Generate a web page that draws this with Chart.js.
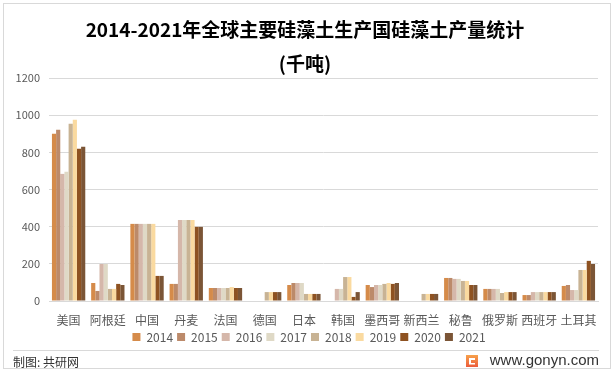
<!DOCTYPE html>
<html><head><meta charset="utf-8">
<script src="https://cdn.jsdelivr.net/npm/chart.js@4/dist/chart.umd.min.js"></script>
<style>html,body{margin:0;padding:0;background:#fff;}#wrap{width:614px;height:370px;position:relative;}</style>
</head><body><div id="wrap"><canvas id="c" width="614" height="370"></canvas></div>
<script>
const categories = ['美国','阿根廷','中国','丹麦','法国','德国','日本','韩国','墨西哥','新西兰','秘鲁','俄罗斯','西班牙','土耳其'];
const years = ['2014','2015','2016','2017','2018','2019','2020','2021'];
const v2014 = [900, 97, 415, 92, 70, null, 86, null, 86, null, 124, 65, 32, 81];
const v2015 = [921, 54, 415, 92, 70, null, 97, null, 75, null, 124, 65, 32, 86];
const v2016 = [684, 199, 415, 436, 70, null, 97, 65, 86, null, 119, 65, 48, 59];
const v2017 = [695, 199, 415, 436, 70, null, 97, 65, 86, null, 119, 65, 48, 59];
const v2018 = [954, 65, 415, 436, 70, 48, 38, 129, 92, 38, 108, 43, 48, 167];
const v2019 = [975, 65, 415, 436, 75, 48, 38, 129, 97, 38, 108, 48, 48, 167];
const v2020 = [819, 92, 135, 399, 70, 48, 38, 22, 92, 38, 86, 48, 48, 216];
const v2021 = [830, 86, 135, 399, 70, 48, 38, 48, 97, 38, 86, 48, 48, 199];
const yTicks = [0, 200, 400, 600, 800, 1000, 1200];
const titleText = '2014-2021年全球主要硅藻土生产国硅藻土产量统计';
const subtitleText = '(千吨)';
const sourceText = '制图: 共研网';
const siteText = 'www.gonyn.com';

const series = [v2014, v2015, v2016, v2017, v2018, v2019, v2020, v2021];
const colors = ['#D58B4A','#BC8A6A','#D5B7AA','#DFD9C6','#C8B394','#FADAA0','#8E5221','#7B5536'];
const FONT = '"Noto Sans CJK SC", "Microsoft YaHei", sans-serif';

const deco = {
  id: 'deco',
  beforeDraw(chart) {
    const l = chart.legend;
    if (l && !l._shifted) { l.left += 20; l._shifted = true; }
  },
  afterDraw(chart) {
    const ctx = chart.ctx;
    ctx.save();
    ctx.strokeStyle = '#D9D9D9';
    ctx.lineWidth = 1;
    ctx.strokeRect(3.5, 3.5, 607, 365);
    ctx.fillStyle = '#000';
    ctx.textAlign = 'center';
    ctx.textBaseline = 'middle';
    ctx.font = 'bold 19px ' + FONT;
    ctx.fillText(titleText, 305, 30);
    ctx.fillText(subtitleText, 305, 64);
    ctx.beginPath();
    ctx.strokeStyle = '#D9D9D9';
    ctx.moveTo(13, 350.5); ctx.lineTo(599, 350.5); ctx.stroke();
    ctx.font = '12px ' + FONT;
    ctx.fillStyle = '#333';
    ctx.textAlign = 'left';
    ctx.fillText(sourceText, 13, 362);
    ctx.textAlign = 'right';
    ctx.font = '15px "Liberation Sans", Arial, sans-serif';
    ctx.fillText(siteText, 599, 361);
    const lx = 466, ly = 355;
    const g = ctx.createLinearGradient(lx, ly, lx, ly + 12);
    g.addColorStop(0, '#F7A24B'); g.addColorStop(1, '#EC5B3B');
    ctx.fillStyle = g;
    ctx.fillRect(lx, ly, 12, 12);
    ctx.fillStyle = '#fff';
    ctx.fillRect(lx + 3, ly + 3, 6, 2);
    ctx.fillRect(lx + 3, ly + 3, 2, 6);
    ctx.fillRect(lx + 3, ly + 8, 6, 1.5);
    ctx.restore();
  }
};

new Chart(document.getElementById('c'), {
  type: 'bar',
  data: {
    labels: categories,
    datasets: series.map((d, i) => ({
      label: years[i], data: d, backgroundColor: colors[i],
      categoryPercentage: 0.85, barPercentage: 1.0
    }))
  },
  options: {
    responsive: false,
    animation: false,
    devicePixelRatio: 1,
    layout: { padding: { top: 78, right: 16, bottom: 17, left: 0 } },
    plugins: {
      title: { display: false },
      tooltip: { enabled: false },
      legend: {
        position: 'bottom',
        labels: {
          boxWidth: 8, boxHeight: 8, padding: 4,
          color: '#595959',
          font: { family: FONT, size: 12 }
        }
      }
    },
    scales: {
      x: {
        grid: { display: false, drawTicks: false },
        border: { display: true, color: '#D9D9D9' },
        ticks: { color: '#595959', font: { family: FONT, size: 12 }, padding: 12, maxRotation: 0, autoSkip: false },
        afterFit: s => { s.height = 26; }
      },
      y: {
        min: 0, max: 1200,
        afterBuildTicks: s => { s.ticks = yTicks.map(v => ({ value: v })); },
        grid: { color: '#D9D9D9', drawTicks: false },
        border: { display: false },
        ticks: { color: '#595959', font: { family: FONT, size: 11 }, padding: 9, callback: v => String(v) },
        afterFit: s => { s.width = 49; }
      }
    }
  },
  plugins: [deco]
});
</script></body></html>
